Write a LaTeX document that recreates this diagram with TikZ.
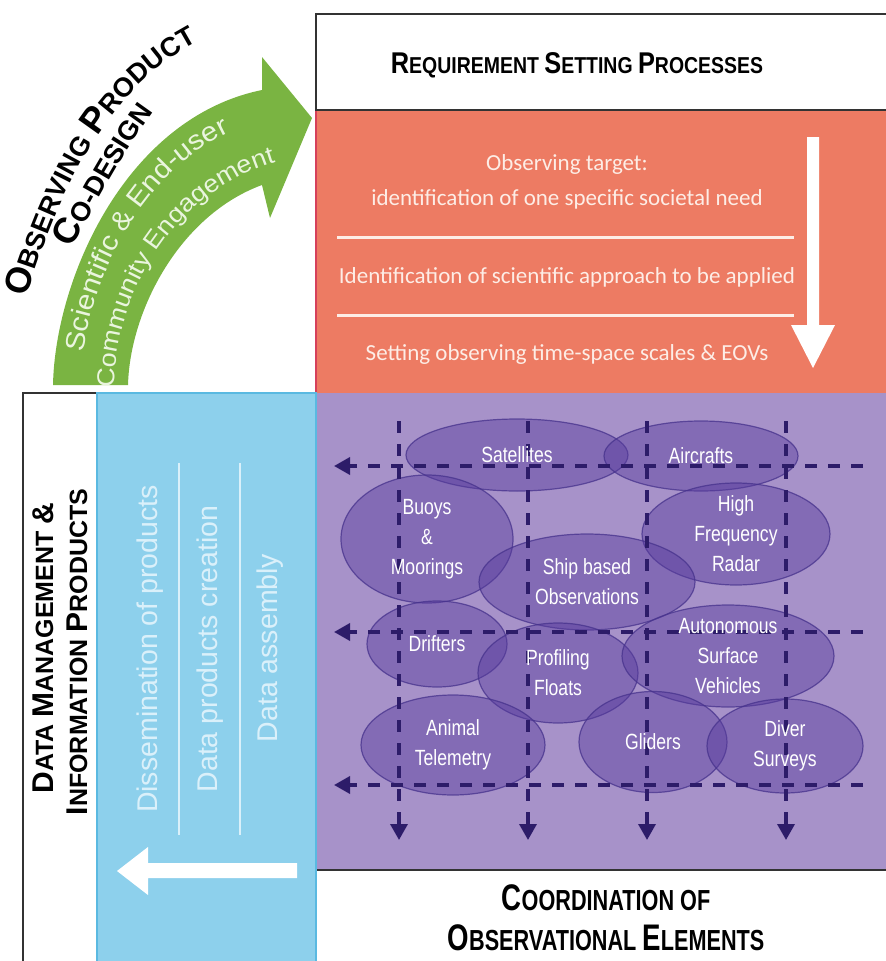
\documentclass[tikz,border=0pt]{standalone}
\usepackage{fontspec}
\usepackage{xcolor}
\usepackage{tikz}
\setmainfont{Liberation Sans}
\newfontfamily\hdfont[FakeStretch=0.9]{Liberation Sans}
\newfontfamily\nrwfont[FakeStretch=0.8]{Liberation Sans}
\newfontfamily\gfont[FakeStretch=1.1]{Liberation Sans}
\newfontfamily\cbfont{Carlito}
\usetikzlibrary{positioning,%
  shapes.geometric,%
  arrows.meta,%
  decorations.text%
}
\definecolor{reqred}{RGB}{237,123,99}
\definecolor{reqedge}{RGB}{214,64,90}
\definecolor{dmblue}{RGB}{141,208,236}
\definecolor{dmedge}{RGB}{90,185,225}
\definecolor{obspurple}{RGB}{167,146,201}
\definecolor{ellpurple}{RGB}{88,60,158}
\definecolor{elledge}{RGB}{70,50,140}
\definecolor{dashpurple}{RGB}{45,28,105}
\definecolor{codgreen}{RGB}{122,180,66}
\definecolor{redtxt}{RGB}{253,237,230}
\definecolor{bluetxt}{RGB}{218,240,250}
\definecolor{greentxt}{RGB}{234,245,222}

\newcommand\hdbig{30}
\newcommand\scw[2]{{\fontsize{\hdbig}{\hdbig}\selectfont #1}#2}
\newcommand\tbig{\bfseries\fontsize{36}{36}\selectfont}
\newcommand\tsmall{\bfseries\fontsize{27}{27}\selectfont}

\begin{document}
\begin{tikzpicture}[x=1pt,y=1pt,
    boxline/.style={draw=black!80,line width=1.5pt},
    reqtext/.style={text=redtxt,font=\cbfont\fontsize{23}{23}\selectfont,anchor=base},
    dmtext/.style={text=bluetxt,font=\fontsize{28.5}{28.5}\selectfont,anchor=base,rotate=90},
    hdtop/.style={font=\hdfont\bfseries\fontsize{23}{23}\selectfont,anchor=base},
    hdbot/.style={font=\hdfont\bfseries\fontsize{29}{29}\selectfont\def\hdbig{37},anchor=base},
    hdleft/.style={font=\hdfont\bfseries\fontsize{25}{25}\selectfont,anchor=base,rotate=90},
    obs/.style={ellipse,draw=elledge,draw opacity=0.75,line width=1.2pt,fill=ellpurple,fill opacity=0.45,inner sep=0pt},
    lbl/.style={text=white,font=\nrwfont\fontsize{22}{30}\selectfont,align=center},
    flowline/.style={dashpurple,line width=3.5pt,dash pattern=on 12pt off 11pt,-{Triangle[length=16pt,width=17pt]}},
    curvetext/.style={decorate,decoration={text along path,text align=center,text color=#1}}
  ]
  \useasboundingbox (0,0) rectangle (886,-961);
  \clip (0,0) rectangle (886,-961);

  \filldraw[fill=white,boxline] (316,-14) rectangle (892,-110);
  \fill[reqred] (316,-110) rectangle (892,-393);
  \draw[reqedge,line width=1.5pt] (316,-111) -- (316,-393);
  \draw[boxline] (316,-110) -- (892,-110);
  \fill[obspurple] (316,-393) rectangle (892,-870);
  \filldraw[fill=white,boxline] (316,-870) rectangle (892,-966);
  \filldraw[fill=white,boxline] (23,-393) rectangle (97,-966);
  \filldraw[fill=dmblue,draw=dmedge,line width=1.2pt] (97,-393) rectangle (316,-966);

  \fill[codgreen] (53,-385) .. controls (55,-280) and (125,-118) .. (262,-90)
    -- (262,-57) -- (312,-118) -- (270,-218) -- (262,-185)
    .. controls (180,-215) and (130,-310) .. (128,-385) -- cycle;
  \path[curvetext=greentxt,decoration={text={|\gfont\fontsize{27}{27}\selectfont|Scientific {\&} End-user}}]
    (81,-387) .. controls (81,-290) and (144,-152) .. (262,-120);
  \path[curvetext=greentxt,decoration={text={|\gfont\fontsize{24.5}{24.5}\selectfont|Community Engagement}}]
    (115,-387) .. controls (113,-303) and (168,-194) .. (275,-162);
  \path[curvetext=black,decoration={text={|\tbig|O|\tsmall|BSERVING |\tbig|P|\tsmall|RODUCT}}]
    (24,-305) .. controls (58,-190) and (108,-85) .. (205,-38);
  \path[curvetext=black,decoration={text={|\tbig|C|\tsmall|O-DESIGN}}]
    (68,-255) .. controls (90,-215) and (120,-155) .. (158,-105);

  \node[hdtop] (rsp) at (577,-73) {\scalebox{0.94}[1]{\scw{R}{EQUIREMENT} \scw{S}{ETTING} \scw{P}{ROCESSES}}};
  \node[reqtext] (req1) at (567,-170) {Observing target:};
  \node[reqtext] (req2) at (567,-205) {identification of one specific societal need};
  \node[reqtext] (req3) at (567,-283) {Identification of scientific approach to be applied};
  \node[reqtext] (req4) at (567,-360) {Setting observing time-space scales \& EOVs};
  \draw[redtxt,line width=3pt] (337,-237) -- (794,-237);
  \draw[redtxt,line width=3pt] (337,-315) -- (794,-315);
  \fill[white] (807,-137) -- (819,-137) -- (819,-325) -- (835,-325) -- (813,-368)
    -- (791,-325) -- (807,-325) -- cycle;

  \node[hdleft] (dm1) at (53,-648) {\scalebox{1.11}[1]{\scw{D}{ATA} \scw{M}{ANAGEMENT} {\fontsize{\hdbig}{\hdbig}\selectfont\&}}};
  \node[hdleft] (dm2) at (87,-652) {\scalebox{1.11}[1]{\scw{I}{NFORMATION} \scw{P}{RODUCTS}}};
  \node[dmtext] (dis) at (157,-649) {Dissemination of products};
  \node[dmtext] (dpc) at (217,-649) {Data products creation};
  \node[dmtext] (das) at (277,-648) {Data assembly};
  \draw[bluetxt,line width=2pt] (179,-463) -- (179,-835);
  \draw[bluetxt,line width=2pt] (240,-463) -- (240,-835);
  \fill[white] (297,-863) -- (148,-863) -- (148,-847) -- (117,-871) -- (148,-895)
    -- (148,-878) -- (297,-878) -- cycle;

  \node[obs,minimum width=222,minimum height=72] (sat) at (517,-455) {};
  \node[obs,minimum width=194,minimum height=70] (air) at (701,-456) {};
  \node[obs,minimum width=172,minimum height=128] (buoy) at (427,-539) {};
  \node[obs,minimum width=188,minimum height=102] (hfr) at (736,-534) {};
  \node[obs,minimum width=216,minimum height=96] (ship) at (587,-582) {};
  \node[obs,minimum width=140,minimum height=86] (drift) at (437,-644) {};
  \node[obs,minimum width=160,minimum height=100] (prof) at (558,-673) {};
  \node[obs,minimum width=212,minimum height=102] (asv) at (728,-656) {};
  \node[obs,minimum width=184,minimum height=100] (anim) at (453,-745) {};
  \node[obs,minimum width=148,minimum height=101] (glid) at (653,-742) {};
  \node[obs,minimum width=156,minimum height=94] (diver) at (785,-746) {};

  \foreach \y in {466,632,785} {
    \coordinate (e\y) at (863,-\y);
    \coordinate (w\y) at (334,-\y);
    \draw[flowline] (e\y) -- (w\y);
  }
  \foreach \x in {399,528,647,786} {
    \coordinate (n\x) at (\x,-421);
    \coordinate (s\x) at (\x,-840);
    \draw[flowline] (n\x) -- (s\x);
  }

  \node[lbl] (sat-t) at (sat) {Satellites};
  \node[lbl] (air-t) at (air) {Aircrafts};
  \node[lbl] (buoy-t) at (buoy) {Buoys\\\&\\Moorings};
  \node[lbl] (hfr-t) at (hfr) {High\\Frequency\\Radar};
  \node[lbl] (ship-t) at (ship) {Ship based\\Observations};
  \node[lbl] (drift-t) at (drift) {Drifters};
  \node[lbl] (prof-t) at (prof) {Profiling\\Floats};
  \node[lbl] (asv-t) at (asv) {Autonomous\\Surface\\Vehicles};
  \node[lbl] (anim-t) at (anim) {Animal\\Telemetry};
  \node[lbl] (glid-t) at (glid) {Gliders};
  \node[lbl] (diver-t) at (diver) {Diver\\Surveys};

  \node[hdbot] (coe1) at (606,-910) {\scalebox{0.83}[1]{\scw{C}{OORDINATION OF}}};
  \node[hdbot] (coe2) at (606,-950) {\scalebox{0.83}[1]{\scw{O}{BSERVATIONAL} \scw{E}{LEMENTS}}};
\end{tikzpicture}
\end{document}
